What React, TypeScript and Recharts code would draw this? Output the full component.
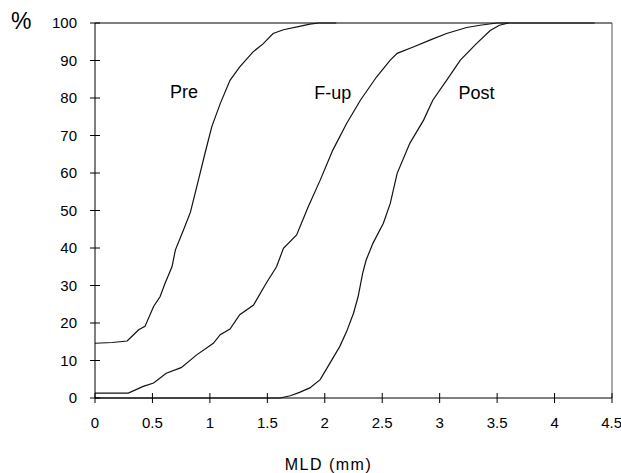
import { Label, Line, LineChart, ReferenceDot, ReferenceLine, XAxis, YAxis } from "recharts";

// cumulative distribution of minimal lumen diameter
const preMld = [0, 0.15, 0.28, 0.32, 0.38, 0.435, 0.51, 0.566, 0.61, 0.67, 0.7, 0.77, 0.83, 0.9, 0.957, 1.016, 1.09, 1.175, 1.26, 1.376, 1.465, 1.55, 1.64, 1.78, 1.87, 1.95, 2.1];
const prePct = [14.6, 14.8, 15.2, 16.4, 18.2, 19.1, 24.4, 27.0, 30.6, 35.0, 39.5, 44.8, 49.5, 58.1, 65.2, 72.3, 78.5, 84.7, 88.3, 92.3, 94.5, 97.2, 98.2, 99.1, 99.7, 100, 100];

const fupMld = [0, 0.29, 0.42, 0.51, 0.62, 0.75, 0.885, 1.03, 1.09, 1.175, 1.26, 1.38, 1.49, 1.58, 1.64, 1.755, 1.856, 1.96, 2.07, 2.19, 2.31, 2.45, 2.57, 2.63, 2.77, 2.92, 3.06, 3.235, 3.35, 3.5, 3.6];
const fupPct = [1.3, 1.3, 3.1, 4.0, 6.6, 8.1, 11.5, 14.6, 16.9, 18.4, 22.2, 24.8, 30.6, 35.0, 39.9, 43.5, 51.0, 58.1, 66.1, 73.2, 79.4, 85.6, 90.1, 91.9, 93.6, 95.5, 97.2, 98.8, 99.4, 100, 100];

const postMld = [0, 1.61, 1.7, 1.78, 1.87, 1.96, 2.045, 2.13, 2.19, 2.25, 2.29, 2.33, 2.36, 2.42, 2.51, 2.57, 2.63, 2.74, 2.86, 2.94, 3.06, 3.18, 3.32, 3.44, 3.52, 3.6, 4.35];
const postPct = [0, 0, 0.6, 1.5, 2.7, 4.9, 9.3, 13.7, 17.7, 22.6, 27.0, 33.3, 36.8, 41.3, 46.6, 51.9, 59.9, 67.9, 74.1, 79.4, 84.7, 90.1, 94.5, 98.0, 99.4, 100, 100];

const xTicks = [0, 0.5, 1, 1.5, 2, 2.5, 3, 3.5, 4, 4.5];
const yTicks = [0, 10, 20, 30, 40, 50, 60, 70, 80, 90, 100];

const curveLabels = [
  { name: "Pre", mld: 0.775, pct: 81.6 },
  { name: "F-up", mld: 2.07, pct: 81.5 },
  { name: "Post", mld: 3.32, pct: 81.5 },
];

const FONT = "'Liberation Sans', Arial, sans-serif";

const zip = (xs: number[], ys: number[]) => xs.map((x, i) => ({ mld: x, pct: ys[i] }));

export default function App() {
  const series = [
    { key: "pre", data: zip(preMld, prePct) },
    { key: "fup", data: zip(fupMld, fupPct) },
    { key: "post", data: zip(postMld, postPct) },
  ];

  return (
    <div style={{ position: "absolute", left: 0, top: 0, width: 621, height: 473, background: "#fff" }}>
      <div
        style={{
          position: "absolute",
          left: 11,
          top: 6,
          fontFamily: FONT,
          fontSize: 23,
          lineHeight: "30px",
        }}
      >
        %
      </div>
      <LineChart width={621} height={473} margin={{ top: 23, right: 9, left: 0, bottom: 0 }}>
        <XAxis
          type="number"
          dataKey="mld"
          domain={[0, 4.5]}
          ticks={xTicks}
          height={75}
          allowDuplicatedCategory={false}
          stroke="#000"
          tickSize={10}
          tickMargin={9}
          tickLine={{ transform: "translate(0,-5)" }}
          tick={{ fill: "#000", fontSize: 15, fontFamily: FONT }}
        >
          <Label
            value="MLD (mm)"
            position="insideBottom"
            offset={3}
            dx={-25}
            style={{ fill: "#000", fontSize: 16, fontFamily: FONT, letterSpacing: 1.5 }}
          />
        </XAxis>
        <YAxis
          type="number"
          dataKey="pct"
          domain={[0, 100]}
          ticks={yTicks}
          width={95}
          stroke="#000"
          tickSize={10}
          tickMargin={8}
          tickLine={{ transform: "translate(5,0)" }}
          tick={{ fill: "#000", fontSize: 15, fontFamily: FONT }}
        />
        <ReferenceLine y={100} stroke="#000" strokeWidth={1.2} />
        <ReferenceLine x={4.5} stroke="#555" strokeWidth={1} />
        {series.map((s) => (
          <Line
            key={s.key}
            data={s.data}
            dataKey="pct"
            type="linear"
            stroke="#111"
            strokeWidth={1.2}
            dot={false}
            activeDot={false}
            isAnimationActive={false}
          />
        ))}
        {curveLabels.map((c) => (
          <ReferenceDot key={c.name} x={c.mld} y={c.pct} r={0} stroke="none" fill="none">
            <Label
              value={c.name}
              position="center"
              style={{ fill: "#000", fontSize: 18, fontFamily: FONT }}
            />
          </ReferenceDot>
        ))}
      </LineChart>
    </div>
  );
}
